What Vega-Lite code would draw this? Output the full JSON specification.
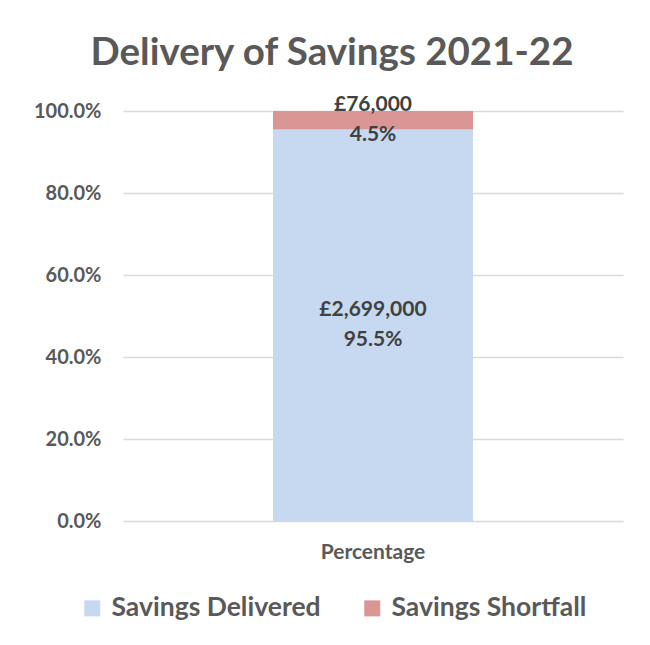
{
  "$schema": "https://vega.github.io/schema/vega-lite/v6.json",
  "width": 500,
  "height": 410,
  "autosize": {"type": "none"},
  "padding": {"left": 123, "top": 111, "right": 27, "bottom": 124},
  "background": "white",
  "title": {
    "text": "Delivery of Savings 2021-22",
    "font": "Lato",
    "fontSize": 38.5,
    "fontWeight": "bold",
    "color": "#595959",
    "anchor": "middle",
    "dx": -41,
    "offset": 21
  },
  "data": {
    "values": [
      {"category": "Percentage", "series": "Savings Delivered", "pct": 95.5, "amount": "£2,699,000", "pctLabel": "95.5%", "order": 1},
      {"category": "Percentage", "series": "Savings Shortfall", "pct": 4.5, "amount": "£76,000", "pctLabel": "4.5%", "order": 2}
    ]
  },
  "transform": [
    {"stack": "pct", "groupby": ["category"], "sort": [{"field": "order", "order": "ascending"}], "as": ["y0", "y1"]},
    {"calculate": "(datum.y0 + datum.y1) / 2", "as": "ymid"}
  ],
  "encoding": {
    "x": {
      "field": "category",
      "type": "nominal",
      "scale": {"paddingInner": 0, "paddingOuter": 0.75},
      "axis": {
        "title": null,
        "labelAngle": 0,
        "domain": false,
        "ticks": false,
        "labelFont": "Lato",
        "labelFontSize": 21,
        "labelFontWeight": "bold",
        "labelColor": "#595959",
        "labelPadding": 20
      }
    }
  },
  "layer": [
    {
      "mark": {"type": "bar"},
      "encoding": {
        "y": {
          "field": "y0",
          "type": "quantitative",
          "scale": {"domain": [0, 100]},
          "axis": {
            "title": null,
            "values": [0, 20, 40, 60, 80, 100],
            "labelExpr": "format(datum.value, '.1f') + '%'",
            "domain": false,
            "ticks": false,
            "grid": true,
            "gridColor": "#D9D9D9",
            "gridWidth": 1.5,
            "labelFont": "Lato",
            "labelFontSize": 20,
            "labelFontWeight": "bold",
            "labelColor": "#595959",
            "labelPadding": 22
          }
        },
        "y2": {"field": "y1"},
        "color": {
          "field": "series",
          "type": "nominal",
          "scale": {"domain": ["Savings Delivered", "Savings Shortfall"], "range": ["#C6D9F0", "#DA9694"]},
          "legend": {
            "title": null,
            "orient": "none",
            "direction": "horizontal",
            "legendX": -44,
            "legendY": 484,
            "symbolType": "square",
            "symbolSize": 256,
            "symbolStrokeWidth": 0,
            "labelFont": "Lato",
            "labelFontSize": 26.5,
            "labelFontWeight": "bold",
            "labelColor": "#595959",
            "labelLimit": 0,
            "columnPadding": 38,
            "labelOffset": 6
          }
        }
      }
    },
    {
      "mark": {"type": "text", "font": "Lato", "fontSize": 21, "fontWeight": "bold", "color": "#404040", "dy": -15},
      "encoding": {
        "y": {"field": "ymid", "type": "quantitative"},
        "text": {"field": "amount"}
      }
    },
    {
      "mark": {"type": "text", "font": "Lato", "fontSize": 21, "fontWeight": "bold", "color": "#404040", "dy": 15},
      "encoding": {
        "y": {"field": "ymid", "type": "quantitative"},
        "text": {"field": "pctLabel"}
      }
    }
  ],
  "config": {"view": {"stroke": null}}
}
